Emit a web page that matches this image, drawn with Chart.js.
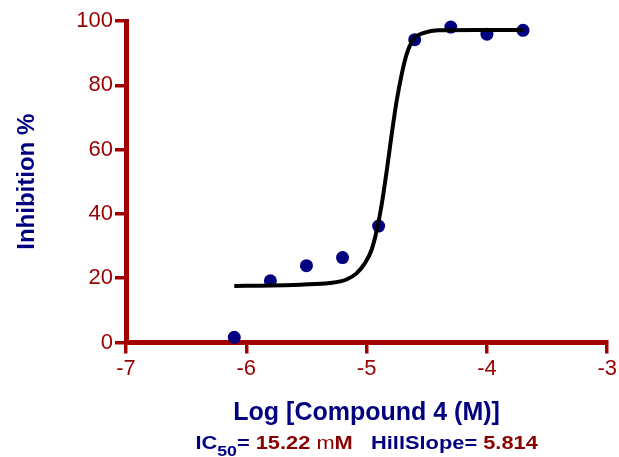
<!DOCTYPE html>
<html>
<head>
<meta charset="utf-8">
<script src="https://cdn.jsdelivr.net/npm/chart.js@4"></script>
<style>
  html, body { margin: 0; padding: 0; background: #fff; }
</style>
</head>
<body>
<canvas id="chart" width="619" height="457"></canvas>
<script>
// measured points: log concentration vs % inhibition
var logDose = [-6.1, -5.8, -5.5, -5.2, -4.9, -4.6, -4.3, -4.0, -3.7];
var inhibition = [1.6, 19.2, 23.9, 26.4, 36.2, 94.2, 98.1, 95.9, 97.1];

// fitted curve
var fitX = [-6.1, -5.8, -5.55, -5.306, -5.167, -5.084, -5.015, -4.96, -4.915, -4.873, -4.832, -4.791, -4.75, -4.708, -4.667, -4.612, -4.516, -4.405, -4.1, -3.7];
var fitY = [17.6, 17.7, 18.0, 18.5, 19.6, 21.5, 24.6, 28.7, 35.0, 43.3, 53.6, 64.9, 75.2, 83.5, 89.7, 94.3, 96.4, 97.1, 97.2, 97.2];

var xTitle = 'Log [Compound 4 (M)]';
var yTitle = 'Inhibition %';
var ic50 = '15.22';
var hillSlope = '5.814';

var axisRed = '#a00000';
var labelRed = '#990000';
var valueRed = '#8b0000';
var navy = '#000080';
var font = '"Liberation Sans", Arial, sans-serif';

var fitLine = [];
for (var i = 0; i < fitX.length; i++) fitLine.push({ x: fitX[i], y: fitY[i] });
var points = [];
for (var j = 0; j < logDose.length; j++) points.push({ x: logDose[j], y: inhibition[j] });

// second caption line with subscript and mixed colours
var captionPlugin = {
  id: 'caption',
  afterDraw: function(chart) {
    var ctx = chart.ctx;
    var sx = 1.18;
    var parts = [
      { t: 'IC', c: navy, w: 'bold', s: 18.5, dy: 0 },
      { t: '50', c: navy, w: 'bold', s: 15, dy: 7 },
      { t: '= ', c: navy, w: 'bold', s: 18.5, dy: 0 },
      { t: ic50 + ' ', c: valueRed, w: 'bold', s: 18.5, dy: 0 },
      { t: 'm', c: valueRed, w: 'normal', s: 18.5, dy: 0 },
      { t: 'M', c: valueRed, w: 'bold', s: 18.5, dy: 0 },
      { t: '   HillSlope= ', c: navy, w: 'bold', s: 18.5, dy: 0 },
      { t: hillSlope, c: valueRed, w: 'bold', s: 18.5, dy: 0 }
    ];
    ctx.save();
    ctx.textBaseline = 'alphabetic';
    ctx.textAlign = 'left';
    var total = 0;
    parts.forEach(function(p) {
      ctx.font = p.w + ' ' + p.s + 'px ' + font;
      p.width = ctx.measureText(p.t).width;
      total += p.width;
    });
    var cx = (chart.chartArea.left + chart.chartArea.right) / 2;
    ctx.translate(cx, 448.5);
    ctx.scale(sx, 1);
    var x = -total / 2;
    parts.forEach(function(p) {
      ctx.font = p.w + ' ' + p.s + 'px ' + font;
      ctx.fillStyle = p.c;
      ctx.fillText(p.t, x, p.dy);
      x += p.width;
    });
    ctx.restore();
  }
};

var ctx = document.getElementById('chart').getContext('2d');
var chart = new Chart(ctx, {
  type: 'scatter',
  data: {
    datasets: [
      {
        type: 'line',
        data: fitLine,
        borderColor: '#000',
        borderWidth: 4,
        pointRadius: 0,
        fill: false,
        cubicInterpolationMode: 'monotone'
      },
      {
        data: points,
        backgroundColor: navy,
        borderWidth: 0,
        pointRadius: 6.5,
        clip: false
      }
    ]
  },
  options: {
    responsive: false,
    animation: false,
    layout: { padding: { top: 21, right: 11, bottom: 0, left: 0 } },
    plugins: { legend: { display: false }, tooltip: { enabled: false } },
    scales: {
      x: {
        type: 'linear',
        min: -7,
        max: -3,
        ticks: { stepSize: 1, color: labelRed, font: { family: font, size: 22 }, padding: 2 },
        grid: { drawOnChartArea: false, drawTicks: true, tickLength: 11, color: axisRed, lineWidth: 3.5 },
        border: { color: axisRed, width: 5 },
        title: { display: true, text: xTitle, color: navy, font: { family: font, size: 25, weight: 'bold' }, padding: { top: 0, bottom: 29 } },
        afterFit: function(s) { s.height = 114.5; }
      },
      y: {
        min: 0,
        max: 100,
        ticks: { stepSize: 20, color: labelRed, font: { family: font, size: 22 }, padding: 2 },
        grid: { drawOnChartArea: false, drawTicks: true, tickLength: 11, color: axisRed, lineWidth: 3.5 },
        border: { color: axisRed, width: 5 },
        title: { display: true, text: yTitle, color: navy, font: { family: font, size: 24, weight: 'bold' }, padding: { top: 12.6, bottom: 0 } },
        afterFit: function(s) { s.width = 126; }
      }
    }
  },
  plugins: [captionPlugin]
});
</script>
</body>
</html>
